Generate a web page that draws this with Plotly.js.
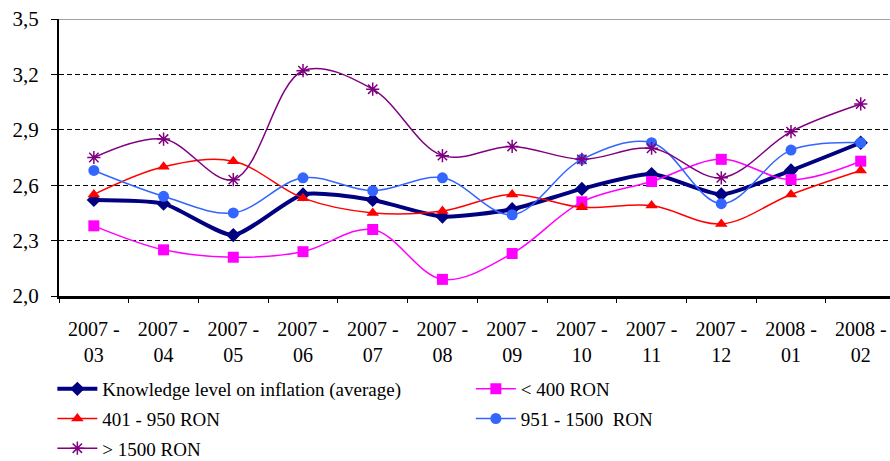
<!DOCTYPE html>
<html>
<head>
<meta charset="utf-8">
<script src="https://cdn.plot.ly/plotly-3.0.1.min.js"></script>
<style>
  html, body { margin: 0; padding: 0; background: #fff; }
  #chart { width: 890px; height: 461px; }
</style>
</head>
<body>
<div id="chart"></div>
<script>
const categories = ["2007 -<br>03", "2007 -<br>04", "2007 -<br>05", "2007 -<br>06", "2007 -<br>07", "2007 -<br>08",
                    "2007 -<br>09", "2007 -<br>10", "2007 -<br>11", "2007 -<br>12", "2008 -<br>01", "2008 -<br>02"];
const avgValues   = [2.52, 2.50, 2.33, 2.55, 2.52, 2.43, 2.47, 2.58, 2.66, 2.55, 2.68, 2.83];
const under400    = [2.38, 2.25, 2.21, 2.24, 2.36, 2.09, 2.23, 2.51, 2.62, 2.74, 2.63, 2.73];
const r401_950    = [2.55, 2.70, 2.73, 2.53, 2.45, 2.46, 2.55, 2.48, 2.49, 2.39, 2.55, 2.68];
const r951_1500   = [2.68, 2.54, 2.45, 2.64, 2.57, 2.64, 2.44, 2.74, 2.83, 2.50, 2.79, 2.83];
const over1500    = [2.75, 2.85, 2.63, 3.22, 3.12, 2.76, 2.81, 2.74, 2.80, 2.64, 2.89, 3.04];
const seriesNames = ["Knowledge level on inflation (average)", "< 400 RON", "401 - 950 RON", "951 - 1500  RON", "> 1500 RON"];
const yTicks = [2.0, 2.3, 2.6, 2.9, 3.2, 3.5];

const serif = "'Liberation Serif', 'Times New Roman', Times, serif";
const xRange = [-0.5, categories.length - 0.58];
const boundaries = categories.map((_, i) => i - 0.5);

const traces = [
  { x: categories, y: avgValues, name: seriesNames[0], legend: "legend", legendgroup: "a",
    mode: "lines+markers", line: { color: "#000080", width: 4, shape: "spline", smoothing: 0.6 },
    marker: { symbol: "diamond", size: 11, color: "#000080" } },
  { x: categories, y: under400, name: seriesNames[1], legend: "legend2", legendgroup: "b",
    mode: "lines+markers", line: { color: "#FF00FF", width: 1.5, shape: "spline", smoothing: 1 },
    marker: { symbol: "square", size: 11, color: "#FF00FF" } },
  { x: categories, y: r401_950, name: seriesNames[2], legend: "legend", legendgroup: "c",
    mode: "lines+markers", line: { color: "#FF0000", width: 1.5, shape: "spline", smoothing: 1 },
    marker: { symbol: "triangle-up", size: 11, color: "#FF0000" } },
  { x: categories, y: r951_1500, name: seriesNames[3], legend: "legend2", legendgroup: "d",
    mode: "lines+markers", line: { color: "#3366FF", width: 1.5, shape: "spline", smoothing: 1 },
    marker: { symbol: "circle", size: 11, color: "#3366FF" } },
  { x: categories, y: over1500, name: seriesNames[4], legend: "legend", legendgroup: "e",
    mode: "lines+markers", line: { color: "#800080", width: 1.5, shape: "spline", smoothing: 1 },
    marker: { symbol: "asterisk-open", size: 11, color: "#800080", line: { color: "#800080", width: 1.5 } } },
  { x: [], y: [], xaxis: "x2", yaxis: "y", showlegend: false, hoverinfo: "skip", mode: "markers" }
];

const layout = {
  width: 890, height: 461,
  margin: { l: 59, r: 0, t: 19, b: 165, autoexpand: false },
  paper_bgcolor: "#ffffff", plot_bgcolor: "#ffffff",
  separators: ",.",
  font: { family: serif, color: "#000000", size: 19 },
  showlegend: true,
  xaxis: {
    type: "category",
    range: xRange,
    showline: true, linecolor: "#000000", linewidth: 3,
    ticks: "outside", ticklen: 13, tickwidth: 1, tickcolor: "rgba(0,0,0,0)",
    showgrid: false, zeroline: false,
    tickfont: { family: serif, size: 20, color: "#000000" }
  },
  xaxis2: {
    type: "linear", overlaying: "x", anchor: "y", side: "bottom",
    range: xRange, tickvals: boundaries, showticklabels: false,
    ticks: "outside", ticklen: 6, tickwidth: 1, tickcolor: "#000000",
    showline: false, showgrid: false, zeroline: false
  },
  yaxis: {
    range: [2.0, 3.5],
    tickvals: yTicks, tickformat: ".1f",
    showline: true, linecolor: "#000000", linewidth: 2,
    ticks: "outside", ticklen: 6, tickwidth: 1, tickcolor: "#000000",
    showgrid: true, gridcolor: "#000000", gridwidth: 1, griddash: "5px,3px",
    zeroline: false,
    tickfont: { family: serif, size: 21, color: "#000000" },
    ticklabelstandoff: 8
  },
  shapes: [
    { type: "line", xref: "paper", yref: "y", x0: 0, x1: 1, y0: 3.5, y1: 3.5,
      line: { color: "#A0A0A0", width: 2 } }
  ],
  legend: {
    x: -0.008, y: -0.267, xanchor: "left", yanchor: "top",
    orientation: "v", traceorder: "grouped", tracegroupgap: 2,
    bgcolor: "rgba(0,0,0,0)", borderwidth: 0,
    font: { family: serif, size: 19, color: "#000000" },
    itemwidth: 40
  },
  legend2: {
    x: 0.4956, y: -0.267, xanchor: "left", yanchor: "top",
    orientation: "v", traceorder: "grouped", tracegroupgap: 2,
    bgcolor: "rgba(0,0,0,0)", borderwidth: 0,
    font: { family: serif, size: 19, color: "#000000" },
    itemwidth: 40
  }
};

Plotly.newPlot("chart", traces, layout, { displayModeBar: false, responsive: false });
</script>
</body>
</html>
